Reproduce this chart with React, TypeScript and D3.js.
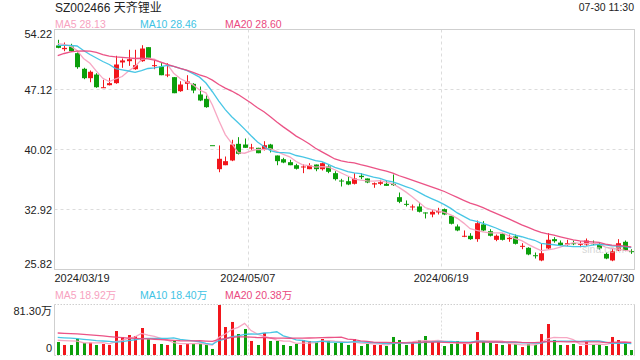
import React from 'react';
import * as d3 from 'd3';

const TITLE = 'SZ002466 天齐锂业';
const TIMESTAMP = '07-30 11:30';
const priceTicks = [54.22, 47.12, 40.02, 32.92, 25.82];
const dateTicks = ['2024/03/19', '2024/05/07', '2024/06/19', '2024/07/30'];
const volTickLabels = ['81.30万', '0'];
const volTickValues = [81.3, 0];
const maNames = ['MA5', 'MA10', 'MA20'];
const priceMaLegend = ['28.13', '28.46', '28.60'];
const volMaLegend = ['18.92万', '18.40万', '20.38万'];

const opens = [
  52.33, 51.89, 52.21, 51.42, 49.57, 48.46, 48.89, 47.32, 47.63, 47.87,
  50.32, 50.47, 49.52, 50.47, 52.13, 49.92, 49.84, 48.81, 48.58, 46.92,
  47.79, 47.79, 46.53, 46.02, 40.53, 37.69, 38.16, 38.72, 40.69, 40.61,
  40.17, 40.22, 39.98, 40.61, 39.31, 38.87, 38.52, 38.16, 37.93, 37.69,
  38.24, 37.69, 38.01, 37.22, 36.35, 36.27, 35.96, 36.91, 36.59, 35.88,
  35.96, 35.96, 35.96, 34.38, 33.59, 33.19, 33.28, 32.57, 32.33, 32.57,
  32.96, 32.17, 30.91, 29.73, 29.81, 29.41, 31.15, 30.35, 29.33, 30.04,
  29.41, 29.73, 28.54, 28.39, 27.51, 26.89, 28.31, 29.41, 29.0, 28.78,
  28.93, 28.78, 28.78, 28.93, 28.86, 27.67, 26.89, 28.07, 29.1, 27.99,
];
const highs = [
  53.0, 52.68, 52.53, 51.5, 49.69, 49.37, 49.05, 48.27, 48.5, 51.11,
  50.79, 51.82, 51.82, 52.36, 52.13, 50.63, 50.32, 50.24, 48.58, 48.1,
  48.81, 47.87, 47.47, 46.41, 40.53, 40.5, 39.19, 41.17, 41.48, 41.32,
  40.69, 40.22, 41.0, 40.69, 39.31, 39.04, 38.8, 38.33, 38.25, 38.4,
  38.24, 38.48, 38.16, 37.45, 36.55, 36.83, 37.22, 37.22, 36.59, 36.12,
  36.43, 36.35, 37.06, 34.93, 33.99, 33.51, 33.75, 32.57, 32.88, 33.12,
  33.04, 32.17, 31.15, 30.44, 30.12, 31.62, 31.54, 30.59, 29.96, 30.12,
  29.96, 29.96, 28.93, 28.46, 27.83, 28.86, 30.12, 29.65, 29.25, 29.33,
  29.25, 29.17, 29.49, 29.25, 29.0, 27.83, 28.31, 29.41, 29.25, 28.22,
];
const lows = [
  52.0, 51.65, 51.6, 49.57, 48.34, 47.98, 47.32, 47.32, 47.6, 47.8,
  49.69, 49.92, 49.45, 50.4, 50.87, 49.52, 48.81, 48.58, 46.68, 46.85,
  47.08, 46.68, 45.74, 44.96, 40.53, 37.33, 38.16, 38.64, 39.43, 40.22,
  39.98, 39.58, 39.9, 39.67, 38.16, 38.4, 38.16, 37.65, 37.22, 37.69,
  37.45, 37.53, 37.22, 36.35, 35.64, 35.8, 35.88, 36.51, 36.03, 35.49,
  35.8, 35.72, 35.72, 33.67, 33.28, 32.8, 32.57, 31.86, 32.0, 32.33,
  32.25, 31.15, 30.35, 29.65, 29.33, 29.1, 30.35, 29.73, 29.17, 29.25,
  29.1, 28.78, 28.22, 27.51, 27.12, 26.8, 28.22, 28.99, 28.62, 28.62,
  28.7, 28.46, 28.62, 28.7, 28.15, 27.04, 26.8, 27.99, 27.99, 27.67,
];
const closes = [
  52.05, 52.05, 51.65, 49.76, 48.46, 49.22, 47.39, 47.39, 47.87, 50.08,
  50.56, 50.71, 50.0, 51.97, 50.87, 50.0, 48.81, 48.89, 46.68, 47.71,
  48.07, 47.0, 45.82, 45.03, 40.53, 38.92, 38.64, 40.61, 39.51, 40.22,
  40.26, 39.58, 40.53, 39.98, 38.64, 38.48, 38.16, 37.74, 38.01, 38.13,
  37.69, 38.4, 37.38, 36.51, 36.23, 35.88, 36.59, 36.75, 36.12, 36.03,
  36.15, 35.72, 35.8, 33.83, 33.51, 33.28, 32.65, 32.49, 32.65, 32.73,
  32.33, 31.23, 30.44, 29.81, 29.41, 31.3, 30.44, 29.81, 29.81, 29.33,
  29.57, 28.86, 28.62, 27.6, 27.44, 27.75, 29.34, 29.17, 28.7, 28.93,
  28.86, 28.86, 29.25, 28.86, 28.31, 27.12, 27.99, 28.93, 28.07, 27.91,
];
// volume in 万
const volumes = [
  21.1, 16.3, 16.3, 26.5, 19.5, 20.0, 16.3, 17.9, 16.3, 39.0,
  29.3, 32.5, 30.9, 43.9, 25.5, 17.9, 17.9, 16.3, 23.8, 16.3,
  17.9, 17.9, 17.9, 16.3, 9.8, 81.3, 45.5, 53.7, 34.1, 42.3,
  22.8, 16.3, 35.8, 22.8, 22.8, 16.3, 14.6, 17.9, 24.4, 22.8,
  21.1, 26.0, 22.8, 19.5, 19.5, 16.3, 26.0, 14.6, 17.9, 16.3,
  16.3, 14.6, 29.3, 24.4, 16.3, 21.1, 24.4, 30.9, 21.1, 21.1,
  14.6, 17.9, 22.8, 17.9, 17.9, 37.4, 21.1, 19.5, 17.9, 16.3,
  17.9, 17.9, 13.0, 17.9, 16.3, 34.1, 50.4, 24.4, 16.3, 16.3,
  17.9, 14.6, 21.1, 16.3, 17.9, 14.6, 29.3, 24.4, 19.5, 8.1,
];
// MA values shown at the left edge (their windows reach before the first visible day)
const priceMa5Lead = [52.55, 52.45, 52.25, 51.75];
const priceMa10Lead = [52.33, 52.33, 52.33, 52.27, 51.74, 51.26, 50.85, 50.43, 50.08];
const priceMa20Lead = [
  51.14, 51.38, 51.56, 51.65, 51.68, 51.65, 51.5, 51.26, 51.08, 50.99,
  50.93, 50.87, 50.79, 50.82, 50.75, 50.6, 50.35, 50.1, 49.85,
];
const volMa5Lead = [24.0, 23.5, 23.0, 22.5];
const volMa10Lead = [28.7, 28.0, 27.3, 26.5, 25.5, 24.5, 23.5, 22.8, 22.2];
const volMa20Lead = [
  35.8, 35.3, 34.8, 34.3, 33.5, 32.7, 32.0, 31.0, 30.0, 29.0,
  28.2, 27.5, 27.0, 26.6, 26.2, 25.6, 25.0, 24.4, 23.8,
];

const UP = '#f2161c';
const DOWN = '#0b9e0b';
const MA_COLORS = ['#f7a2c0', '#3ec3e4', '#ea4a80'];
const FONT = 'Arial, "Liberation Sans", "Noto Sans CJK SC", sans-serif';

function movingAvg(values: number[], n: number, lead: number[]) {
  return values.map((_, i) =>
    i < n - 1 ? lead[i] : (d3.mean(values.slice(i - n + 1, i + 1)) as number)
  );
}

export default function App() {
  const n = closes.length;
  const left = 54.5;
  const right = 634.5;
  const top = 29.5;
  const bottom = 269.5;
  const vTop = 304.5;
  const vBottom = 355.5;

  const x = d3.scaleBand<number>().domain(d3.range(n)).range([left, right]);
  const bw = x.bandwidth();
  const cxr = (i: number) => Math.round((x(i) as number) + bw / 2);
  const cxf = (i: number) => (x(i) as number) + bw / 2;
  const y = d3.scaleLinear().domain([25.82, 54.22]).range([bottom, top]);
  const yv = d3.scaleLinear().domain([0, 81.3]).range([355, 305]);

  const priceMAs = [
    movingAvg(closes, 5, priceMa5Lead),
    movingAvg(closes, 10, priceMa10Lead),
    movingAvg(closes, 20, priceMa20Lead),
  ];
  const volMAs = [
    movingAvg(volumes, 5, volMa5Lead),
    movingAvg(volumes, 10, volMa10Lead),
    movingAvg(volumes, 20, volMa20Lead),
  ];

  const isUp = (i: number) =>
    closes[i] > opens[i] || (closes[i] === opens[i] && i > 0 && closes[i] >= closes[i - 1]);

  const priceLine = d3.line<number>().x((_, i) => cxf(i)).y((d) => y(d));
  const volLine = d3.line<number>().x((_, i) => cxf(i)).y((d) => yv(d));

  const vGrid = [1, 2].map((k) => Math.round(left + ((right - left) * k) / 3) + 0.5);

  return (
    <svg
      width={640}
      height={360}
      style={{ position: 'absolute', left: 0, top: 0, background: '#fff' }}
      fontFamily={FONT}
    >
      <rect x={0} y={0} width={640} height={360} fill="#fff" />
      {/* header */}
      <text x={55} y={12} fontSize={12} fill="#222">{TITLE}</text>
      <text x={634} y={11} fontSize={10.5} fill="#222" textAnchor="end">{TIMESTAMP}</text>
      {maNames.map((m, k) => (
        <text key={m} x={55 + 85 * k} y={27.5} fontSize={10.5} fill={MA_COLORS[k]}>
          {m} {priceMaLegend[k]}
        </text>
      ))}

      {/* price grid */}
      {priceTicks.slice(1, -1).map((t) => (
        <line key={t} x1={left} x2={right} y1={y(t)} y2={y(t)} stroke="#dcdcdc" strokeDasharray="3,3" />
      ))}
      {vGrid.map((gx) => (
        <line key={gx} x1={gx} x2={gx} y1={top} y2={bottom} stroke="#dcdcdc" strokeDasharray="3,3" />
      ))}
      <rect x={left} y={top} width={right - left} height={bottom - top} fill="none" stroke="#cfcfcf" />

      {/* price axis labels */}
      {priceTicks.map((t, k) => {
        const yy = y(t);
        const by = k === 0 ? yy + 8.5 : k === priceTicks.length - 1 ? yy - 2 : yy + 4;
        return (
          <text key={t} x={52} y={by} fontSize={11} fill="#222" textAnchor="end">
            {t.toFixed(2)}
          </text>
        );
      })}
      {dateTicks.map((d, k) => {
        const px = left + ((right - left) * k) / 3;
        const anchor = k === 0 ? 'start' : k === dateTicks.length - 1 ? 'end' : 'middle';
        return (
          <text key={d} x={px} y={282} fontSize={11} fill="#222" textAnchor={anchor}>
            {d}
          </text>
        );
      })}

      {/* candles */}
      {closes.map((c, i) => {
        const col = isUp(i) ? UP : DOWN;
        const cx = cxr(i);
        const yo = y(opens[i]);
        const yc = y(c);
        const bt = Math.min(yo, yc);
        const bh = Math.max(1, Math.abs(yo - yc));
        return (
          <g key={i}>
            <line x1={cx + 0.5} x2={cx + 0.5} y1={y(highs[i])} y2={y(lows[i])} stroke={col} strokeWidth={1} />
            <rect x={cx - 2} y={bt} width={5} height={bh} fill={col} />
          </g>
        );
      })}

      {/* price MA lines */}
      {priceMAs.map((arr, k) => (
        <path key={k} d={priceLine(arr) as string} fill="none" stroke={MA_COLORS[k]} strokeWidth={1.3} strokeOpacity={0.95} />
      ))}

      {/* watermark */}
      <text x={582} y={253} fontSize={10.5} fill="#c8c8c8" fillOpacity={0.75}>sina.com</text>

      {/* volume panel */}
      {maNames.map((m, k) => (
        <text key={m} x={55 + 85 * k} y={299} fontSize={10.5} fill={MA_COLORS[k]}>
          {m} {volMaLegend[k]}
        </text>
      ))}
      {vGrid.map((gx) => (
        <line key={'v' + gx} x1={gx} x2={gx} y1={vTop} y2={vBottom} stroke="#dcdcdc" strokeDasharray="2,2" />
      ))}
      <line x1={left} x2={right} y1={vTop} y2={vTop} stroke="#cfcfcf" strokeDasharray="1.5,1.5" />
      <line x1={left} x2={right} y1={vBottom} y2={vBottom} stroke="#cfcfcf" strokeDasharray="1.5,1.5" />
      <line x1={left} x2={left} y1={vTop} y2={vBottom} stroke="#cfcfcf" />
      <line x1={right} x2={right} y1={vTop} y2={vBottom} stroke="#cfcfcf" />
      {volTickValues.map((v, k) => (
        <text key={k} x={52} y={k === 0 ? 315 : 352} fontSize={11} fill="#222" textAnchor="end">
          {volTickLabels[k]}
        </text>
      ))}
      {volumes.map((v, i) => {
        const cx = cxr(i);
        return (
          <rect key={i} x={cx - 1} y={yv(v)} width={3} height={yv(0) - yv(v)} fill={isUp(i) ? UP : DOWN} />
        );
      })}
      {volMAs.map((arr, k) => (
        <path key={k} d={volLine(arr) as string} fill="none" stroke={MA_COLORS[k]} strokeWidth={1.3} strokeOpacity={0.95} />
      ))}
    </svg>
  );
}
